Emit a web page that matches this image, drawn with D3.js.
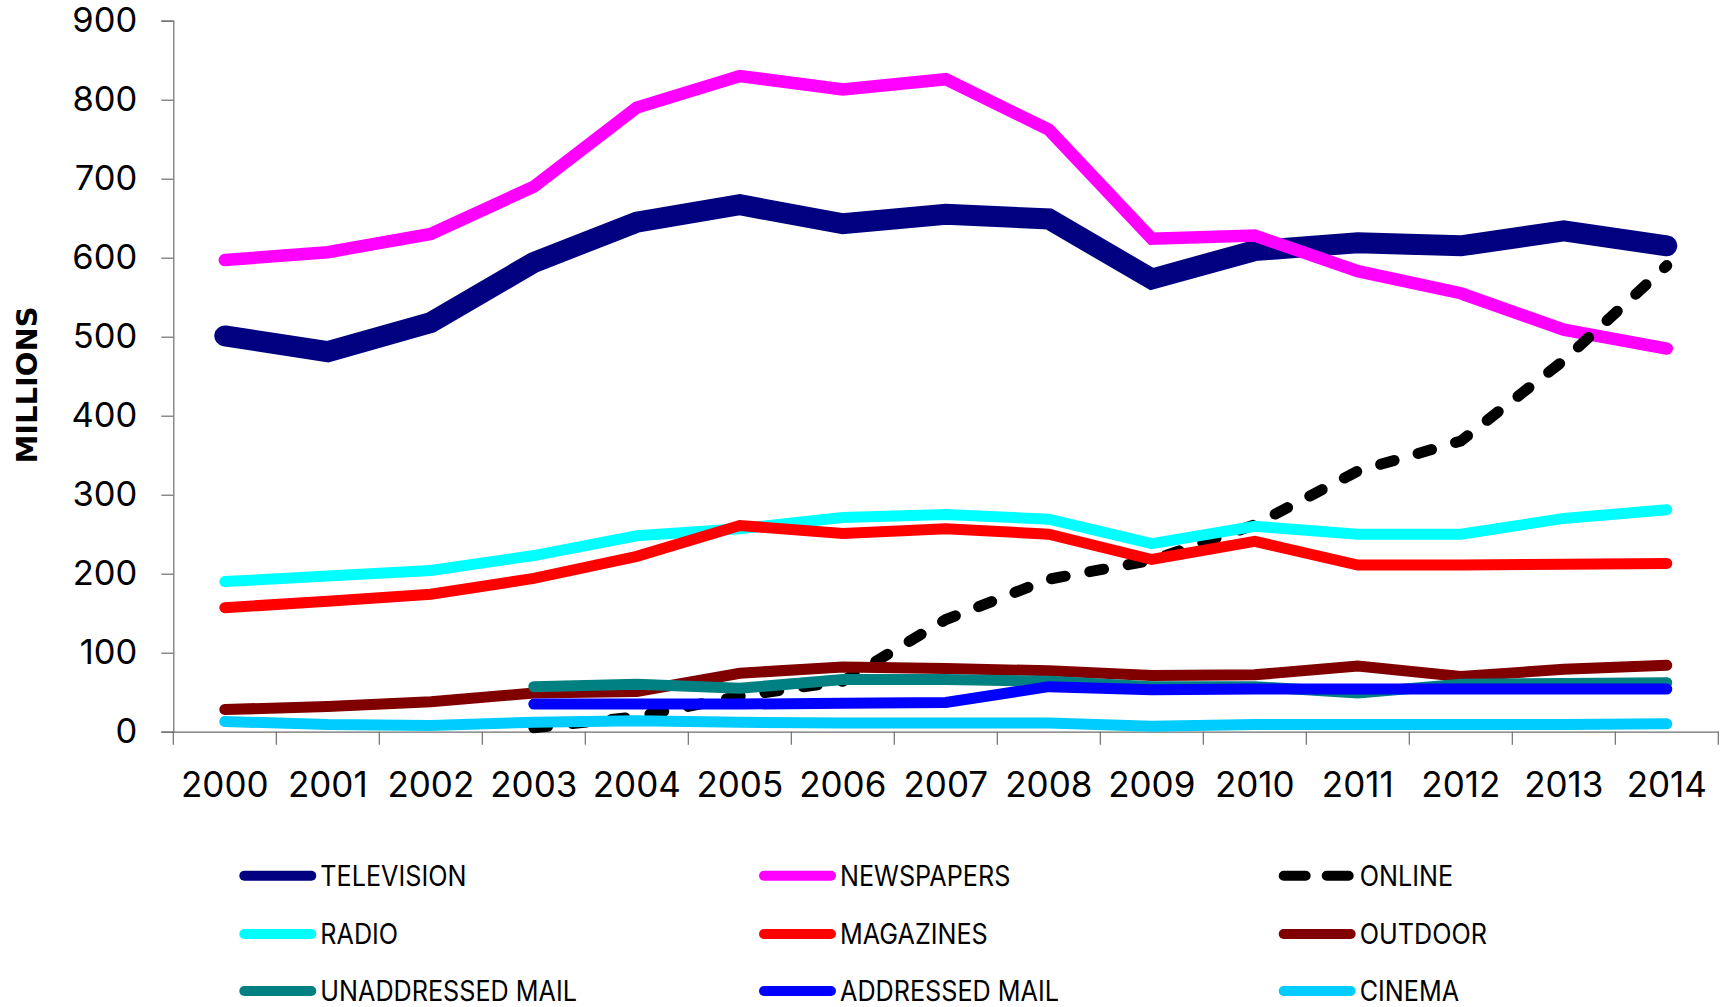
<!DOCTYPE html>
<html>
<head>
<meta charset="utf-8">
<script src="https://cdn.jsdelivr.net/npm/d3@7"></script>
<style>
  html, body { margin: 0; padding: 0; background: #fff; }
  svg { display: block; }
  text { font-family: Inter, "Noto Sans", sans-serif; fill: #000; }
</style>
</head>
<body>
<svg id="chart" width="1721" height="1007"></svg>
<script>
// Advertising spend by medium, millions
const years = ["2000","2001","2002","2003","2004","2005","2006","2007","2008","2009","2010","2011","2012","2013","2014"];
const yTicks = [0, 100, 200, 300, 400, 500, 600, 700, 800, 900];

const television   = [501, 481, 518, 594, 645, 667, 643, 655, 649, 573, 609, 619, 615, 634, 615];
const newspapers   = [597, 607, 630, 690, 790, 830, 813, 826, 762, 624, 628, 583, 555, 509, 485];
const online       = [null, null, null, 5, 19, 45, 64, 142, 193, 217, 262, 330, 368, 470, 590];
const radio        = [190, 197, 204, 223, 248, 257, 271, 275, 269, 238, 260, 250, 250, 270, 281];
const magazines    = [157, 165, 174, 194, 222, 261, 251, 257, 250, 218, 241, 211, 211, 212, 213];
const outdoor      = [28, 32, 38, 49, 51, 74, 82, 80, 77, 71, 72, 83, 70, 79, 84];
const unaddressed  = [null, null, null, 57, 60, 55, 66, 66, 64, 57, 57, 49, 60, 61, 62];
const addressed    = [null, null, null, 35, 35, 35, 36, 37, 57, 53, 54, 54, 54, 54, 54];
const cinema       = [13, 9, 8, 12, 14, 12, 11, 11, 11, 7, 9, 9, 9, 9, 10];

const seriesNames  = ["TELEVISION", "NEWSPAPERS", "ONLINE", "RADIO", "MAGAZINES", "OUTDOOR", "UNADDRESSED MAIL", "ADDRESSED MAIL", "CINEMA"];
const seriesValues = [television, newspapers, online, radio, magazines, outdoor, unaddressed, addressed, cinema];
const seriesColors = ["#000080", "#ff00ff", "#000000", "#00ffff", "#ff0000", "#800000", "#008080", "#0000ff", "#00ccff"];
const seriesWidths = [21, 12.5, 11, 11, 11, 11, 11, 11, 11];
const seriesDash   = [null, null, "14,25", null, null, null, null, null, null];

const svg = d3.select("#chart");

const x = d3.scaleBand().domain(years).range([173.3, 1718.3]).padding(0);
const y = d3.scaleLinear().domain([0, 900]).range([731.7, 20.7]);

// y axis
const yAxis = svg.append("g")
  .attr("transform", "translate(173.3,0)")
  .call(d3.axisLeft(y).tickValues(yTicks).tickSize(12).tickPadding(24).tickFormat(d3.format("d")));
yAxis.selectAll(".tick text").attr("font-size", 34.5).attr("font-family", "Inter, sans-serif").attr("fill", "#000");

// x axis with ticks on band edges
const xAxis = svg.append("g")
  .attr("transform", "translate(0,731.7)")
  .call(d3.axisBottom(x).tickSize(0).tickPadding(40));
xAxis.selectAll(".tick text").attr("font-size", 35).attr("font-family", "Inter, sans-serif").attr("fill", "#000");
const edges = years.map(d => x(d)).concat([x(years[years.length - 1]) + x.bandwidth()]);
xAxis.selectAll("line.edge").data(edges).enter().append("line")
  .attr("class", "edge")
  .attr("x1", d => d).attr("x2", d => d)
  .attr("y1", 0).attr("y2", 13);

svg.selectAll(".domain, .tick line, line.edge").attr("stroke", "#6e6e6e").attr("stroke-width", 1.2);

// y axis title
svg.append("text")
  .attr("transform", "translate(36.7,385) rotate(-90)")
  .attr("text-anchor", "middle")
  .attr("font-weight", "bold")
  .attr("font-size", 29)
  .style("font-family", "'DejaVu Sans', sans-serif")
  .text("MILLIONS");

// series lines
const line = d3.line()
  .defined(d => d.v !== null)
  .x(d => x(d.year) + x.bandwidth() / 2)
  .y(d => y(d.v));

const plot = svg.append("g");
seriesNames.forEach((name, i) => {
  const pts = years.map((yr, j) => ({ year: yr, v: seriesValues[i][j] }));
  plot.append("path")
    .datum(pts)
    .attr("fill", "none")
    .attr("stroke", seriesColors[i])
    .attr("stroke-width", seriesWidths[i])
    .attr("stroke-linecap", "round")
    .attr("stroke-linejoin", "miter")
    .attr("stroke-dasharray", seriesDash[i])
    .attr("d", line);
});

// legend: three columns, three rows; labels set slightly condensed
const legend = svg.append("g");
const colX = [239.3, 759, 1278.7];
const rowY = [875.7, 934, 991];
seriesNames.forEach((name, i) => {
  const cx = colX[i % 3], cy = rowY[Math.floor(i / 3)];
  legend.append("line")
    .attr("x1", cx + 5).attr("x2", cx + 72)
    .attr("y1", cy).attr("y2", cy)
    .attr("stroke", seriesColors[i])
    .attr("stroke-width", 10)
    .attr("stroke-linecap", "round")
    .attr("stroke-dasharray", seriesDash[i] ? "22,21" : null);
  legend.append("text")
    .attr("transform", `translate(${cx + 81},${cy + 10.3}) scale(0.9,1)`)
    .attr("font-size", 28)
    .text(name);
});
</script>
</body>
</html>
